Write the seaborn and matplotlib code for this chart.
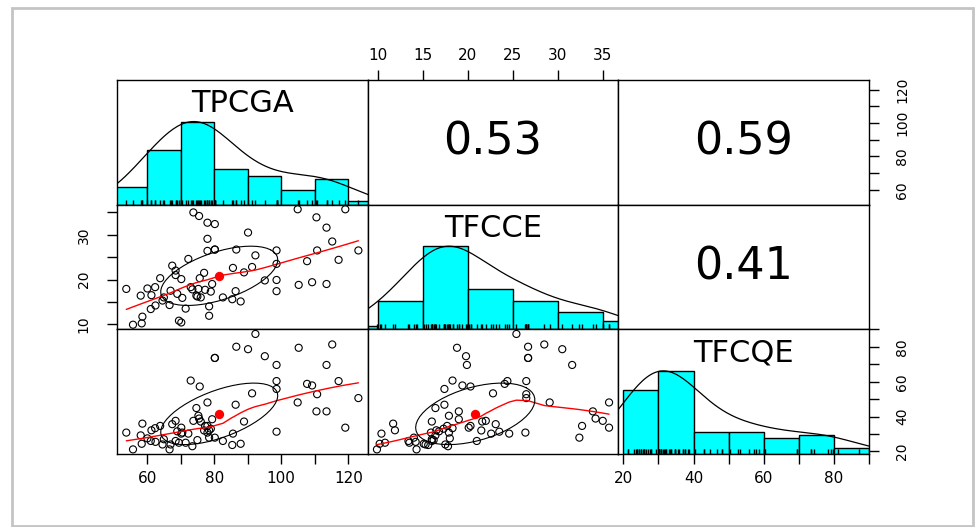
import numpy as np
import pandas as pd
import matplotlib
matplotlib.use("Agg")
import matplotlib.pyplot as plt
from matplotlib.patches import Rectangle
import seaborn as sns

# -----------------------------
# Data
# -----------------------------
tpcga = [53.8, 55.8, 58.1, 58.4, 58.6, 60.1, 61.1, 61.3, 62.4, 63.9, 64.6, 66.7,
         67.5, 68.5, 69.5, 70.2, 70.2, 70.5, 72.3, 73.0, 73.8, 74.7, 75.3, 75.5,
         76.0, 77.3, 78.0, 78.0, 78.0, 78.5, 78.5, 79.4, 75.7, 80.2, 80.2, 80.2,
         82.6, 85.4, 85.6, 86.4, 86.6, 87.9, 88.9, 90.1, 91.3, 92.3, 95.1, 98.6,
         98.6, 98.6, 98.6, 104.9, 105.2, 107.7, 109.2, 110.5, 110.7, 113.5, 113.5,
         115.2, 117.1, 119.1, 123.0, 62.5, 65.0, 67.0, 68.5, 69.0, 71.5, 73.5,
         75.0, 77.0, 79.0]
tfcce = [17.9, 9.9, 16.4, 10.2, 11.7, 18.0, 13.4, 16.5, 18.3, 20.3, 15.3, 14.3,
         23.1, 22.0, 10.8, 10.4, 20.1, 15.9, 24.6, 18.3, 35.0, 16.4, 17.9, 34.2,
         16.0, 17.7, 32.7, 29.1, 26.4, 14.0, 11.9, 19.0, 20.3, 32.4, 26.7, 26.7,
         16.0, 15.6, 22.6, 17.4, 26.7, 15.1, 21.6, 30.5, 22.8, 25.4, 19.8, 26.5,
         23.5, 19.9, 17.4, 35.7, 18.8, 24.1, 19.4, 33.9, 26.5, 31.6, 19.0, 28.5,
         24.4, 35.7, 26.5, 14.2, 16.0, 17.5, 21.0, 16.8, 13.5, 17.8, 16.2, 21.5,
         17.3]
tfcqe = [30.8, 21.2, 29.2, 24.4, 35.9, 27.5, 26.0, 32.1, 33.3, 34.6, 24.0, 21.2,
         35.6, 37.5, 25.0, 30.2, 33.6, 30.8, 30.2, 60.5, 37.5, 44.8, 40.4, 38.8,
         37.1, 34.6, 34.6, 48.0, 30.8, 27.9, 32.1, 38.4, 57.1, 27.9, 73.4, 73.4,
         26.0, 23.7, 30.2, 46.7, 79.8, 24.4, 37.1, 78.4, 53.2, 87.1, 74.4, 60.2,
         31.3, 69.4, 55.7, 48.0, 79.2, 58.6, 57.7, 42.9, 52.7, 69.4, 42.9, 81.1,
         60.2, 33.6, 50.5, 25.5, 27.0, 24.0, 26.0, 31.5, 25.0, 23.0, 26.5, 32.0,
         33.0]

var_names = ["TPCGA", "TFCCE", "TFCQE"]
corr_labels = ["0.53", "0.59", "0.41"]   # upper panels (1,2), (1,3), (2,3)

hist_bins = {
    "TPCGA": np.arange(50, 131, 10),
    "TFCCE": np.arange(5, 41, 5),
    "TFCQE": np.arange(20, 91, 10),
}
axis_ticks = {
    "TPCGA": (np.arange(60, 121, 10), [60, 80, 100, 120]),
    "TFCCE": (np.arange(10, 36, 5), [10, 15, 20, 25, 30, 35]),
    "TFCQE": (np.arange(20, 91, 10), [20, 40, 60, 80]),
}
tfcce_left_labels = [10, 20, 30]

df = pd.DataFrame({"TPCGA": tpcga, "TFCCE": tfcce, "TFCQE": tfcqe})

HIST_COL = "#00FFFF"
TICK_FS = 11
ROT_FS = 10


# -----------------------------
# Helpers
# -----------------------------
def lims(v):
    v = np.asarray(v, float)
    r = v.max() - v.min()
    return v.min() - 0.04 * r, v.max() + 0.04 * r


def lowess(x, y, f=2 / 3, iters=3):
    order = np.argsort(x)
    x = np.asarray(x, float)[order]
    y = np.asarray(y, float)[order]
    n = len(x)
    r = int(np.ceil(f * n))
    robust = np.ones(n)
    fit = np.zeros(n)
    for _ in range(iters + 1):
        for i in range(n):
            d = np.abs(x - x[i])
            h = np.sort(d)[r - 1]
            w = np.clip(d / max(h, 1e-12), 0, 1)
            w = (1 - w ** 3) ** 3 * robust
            sw = w.sum()
            xm = (w * x).sum() / sw
            ym = (w * y).sum() / sw
            sxx = (w * (x - xm) ** 2).sum()
            b = (w * (x - xm) * (y - ym)).sum() / sxx if sxx > 0 else 0.0
            fit[i] = ym + b * (x[i] - xm)
        res = y - fit
        s = np.median(np.abs(res))
        u = np.clip(res / (6 * s), -1, 1)
        robust = (1 - u ** 2) ** 2
    return x, fit


def corr_ellipse(x, y):
    # 1-sd correlation ellipse, as psych::draw.ellipse
    xm, ym = np.mean(x), np.mean(y)
    xs, ys = np.std(x, ddof=1), np.std(y, ddof=1)
    r = np.corrcoef(x, y)[0, 1]
    ang = np.linspace(0, 2 * np.pi, 52)
    circle = np.column_stack([np.cos(ang), np.sin(ang)])
    th = np.sign(r) / np.sqrt(2)
    shape = np.diag([np.sqrt(1 + r), np.sqrt(1 - r)]) @ np.array([[th, th], [-th, th]])
    e = circle @ shape
    return e[:, 0] * xs + xm, e[:, 1] * ys + ym


def nrd_factor(v):
    # R density(bw="nrd", adjust=1.2) expressed as a gaussian_kde factor
    v = np.asarray(v, float)
    sd = v.std(ddof=1)
    iqr = np.subtract(*np.percentile(v, [75, 25]))
    bw = 1.06 * min(sd, iqr / 1.34) * len(v) ** (-0.2) * 1.2
    return bw / sd


# -----------------------------
# Figure
# -----------------------------
sns.set_style("white")
plt.rcParams.update({
    "text.color": "black",
    "axes.labelcolor": "black",
    "xtick.color": "black",
    "ytick.color": "black",
})

fig, axes = plt.subplots(3, 3, figsize=(9.77, 5.27), dpi=100,
                         gridspec_kw=dict(wspace=0, hspace=0))
fig.subplots_adjust(left=117 / 977, right=869 / 977, top=1 - 80 / 527, bottom=1 - 454 / 527)

# screenshot style frame
fig.patches.append(Rectangle((12 / 977, 1 - 526 / 527), 961 / 977, 518 / 527,
                             transform=fig.transFigure, fill=False,
                             edgecolor="#c4c4c4", lw=2, zorder=0))

limits = {v: lims(df[v]) for v in var_names}

for i, vy in enumerate(var_names):
    for j, vx in enumerate(var_names):
        ax = axes[i, j]
        for sp in ax.spines.values():
            sp.set_visible(True)
            sp.set_color("black")
            sp.set_linewidth(1)
        ax.set_xlim(limits[vx])
        ax.set_xticks([])
        ax.set_yticks([])

        if i == j:
            # histogram + density + rug
            sns.histplot(x=df[vx], bins=hist_bins[vx], stat="count", ax=ax,
                         color=HIST_COL, edgecolor="black", linewidth=1, alpha=1)
            top = max(p.get_height() for p in ax.patches)
            ax.set_ylim(0, 1.5 * top)
            sns.rugplot(x=df[vx], ax=ax, height=0.04, color="black", lw=1.1)
            ax2 = ax.twinx()
            sns.kdeplot(x=df[vx], ax=ax2, bw_method=nrd_factor(df[vx]),
                        color="black", lw=0.9, cut=3)
            kmax = ax2.lines[0].get_ydata().max()
            ax2.set_ylim(0, 1.5 * kmax)
            ax2.set_yticks([])
            ax2.set_ylabel("")
            for sp in ax2.spines.values():
                sp.set_visible(False)
            ax2.set_xlim(limits[vx])
            ax.text(0.5, 0.81, vx, transform=ax.transAxes, ha="center", va="center",
                    fontsize=22, color="black")
        elif i > j:
            x = df[vx].values
            y = df[vy].values
            ax.set_ylim(limits[vy])
            sns.scatterplot(x=x, y=y, ax=ax, marker="o", s=26, facecolor="none",
                            edgecolor="black", linewidth=0.8)
            lx, ly = lowess(x, y)
            ax.plot(lx, ly, color="red", lw=1)
            ex, ey = corr_ellipse(x, y)
            ax.plot(ex, ey, color="black", lw=0.8)
            sns.scatterplot(x=[np.mean(x)], y=[np.mean(y)], ax=ax, color="red",
                            s=45, edgecolor="red", linewidth=0)
        else:
            ax.set_ylim(limits[vy])
            k = {(0, 1): 0, (0, 2): 1, (1, 2): 2}[(i, j)]
            ax.text(0.5, 0.5, corr_labels[k], transform=ax.transAxes,
                    ha="center", va="center", fontsize=32, color="black")
        ax.set_xlabel("")
        ax.set_ylabel("")

tick_kw = dict(direction="out", length=7, width=1, colors="black")

# bottom axis: TPCGA (col 1) and TFCQE (col 3)
for j in (0, 2):
    v = var_names[j]
    ax = axes[2, j]
    ticks, labs = axis_ticks[v]
    ax.set_xticks(ticks)
    ax.set_xticklabels([str(t) if t in labs else "" for t in ticks], fontsize=TICK_FS)
    ax.tick_params(axis="x", bottom=True, pad=5, **tick_kw)

# top axis: TFCCE (col 2)
ax = axes[0, 1]
ticks, labs = axis_ticks["TFCCE"]
ax.xaxis.set_ticks_position("top")
ax.set_xticks(ticks)
ax.set_xticklabels([str(t) for t in ticks], fontsize=TICK_FS)
ax.tick_params(axis="x", top=True, bottom=False, labeltop=True, labelbottom=False,
               pad=5, **tick_kw)

# left axis: TFCCE (row 2)
ax = axes[1, 0]
ticks, _ = axis_ticks["TFCCE"]
ax.set_yticks(ticks)
ax.set_yticklabels([str(t) if t in tfcce_left_labels else "" for t in ticks],
                   fontsize=ROT_FS, rotation=90, va="center")
ax.tick_params(axis="y", left=True, pad=12, **tick_kw)

# right axis: TPCGA (row 1)
ax = axes[0, 2]
ticks, labs = axis_ticks["TPCGA"]
ax.yaxis.set_ticks_position("right")
ax.set_yticks(ticks)
ax.set_yticklabels([str(t) if t in labs else "" for t in ticks],
                   fontsize=ROT_FS, rotation=90, va="center")
ax.tick_params(axis="y", right=True, left=False, labelright=True, labelleft=False,
               pad=12, **tick_kw)

# right axis: TFCQE (row 3) on the histogram panel
ax3 = axes[2, 2].twinx()
ax3.set_ylim(limits["TFCQE"])
ticks, labs = axis_ticks["TFCQE"]
ax3.set_yticks(ticks)
ax3.set_yticklabels([str(t) if t in labs else "" for t in ticks],
                    fontsize=ROT_FS, rotation=90, va="center")
ax3.tick_params(axis="y", right=True, pad=12, **tick_kw)
for sp in ax3.spines.values():
    sp.set_visible(False)

fig.savefig("out.png", dpi=100)
